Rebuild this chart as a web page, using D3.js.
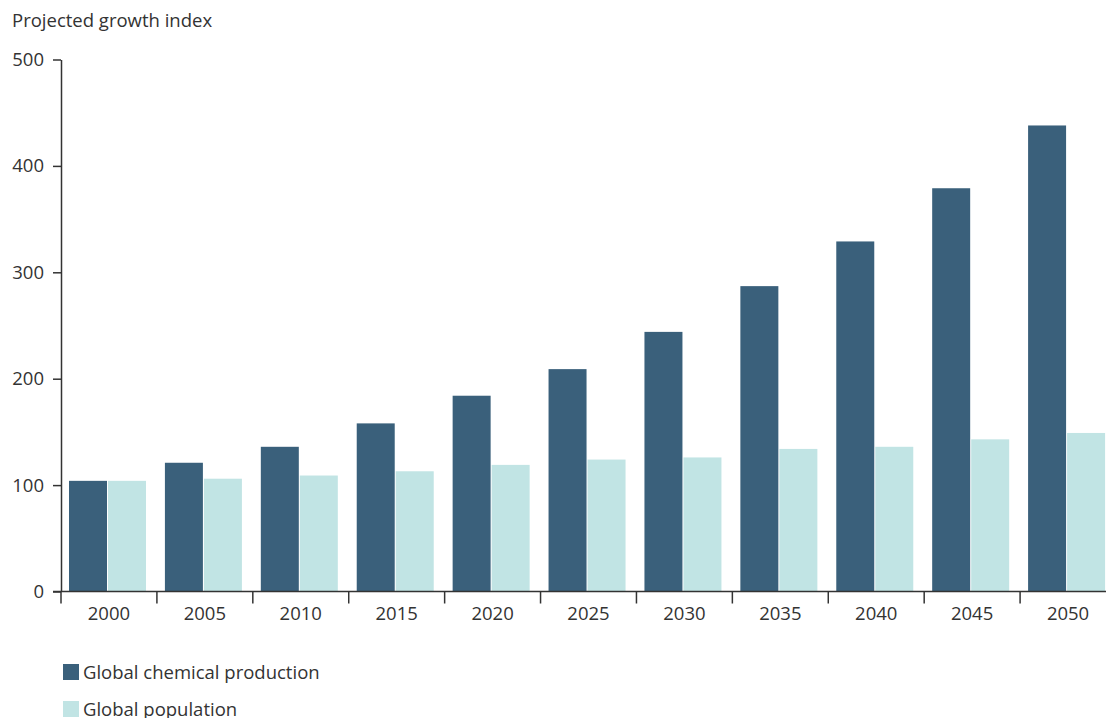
<!DOCTYPE html>
<html><head><meta charset="utf-8">
<script src="https://cdn.jsdelivr.net/npm/d3@7"></script>
<style>body{margin:0;background:#fff}svg{display:block;font-family:"Open Sans",sans-serif}</style>
</head><body><svg id="c" width="1106" height="718"></svg>
<script>
const years = ["2000","2005","2010","2015","2020","2025","2030","2035","2040","2045","2050"];
const seriesNames = ["Global chemical production","Global population"];
const chemical = [104,121,136,158,184,209,244,287,329,379,438];
const population = [104,106,109,113,119,124,126,134,136,143,149];
const yTicks = [0,100,200,300,400,500];
const colors = ["#3a607b","#c1e4e4"];

const svg = d3.select("#c");
const y = d3.scaleLinear().domain([0,500]).range([591.5,59.5]);
const x0 = d3.scaleBand().domain(years).range([61,1116]).padding(0);
const x1 = d3.scaleBand().domain(seriesNames).range([8,85]).paddingInner(0.026);
const data = [chemical, population];

// bars
seriesNames.forEach((s,si)=>{
  svg.append("g").selectAll("rect").data(years).join("rect")
    .attr("x", (d)=>x0(d)+x1(s))
    .attr("width", x1.bandwidth())
    .attr("y", (d,i)=>y(data[si][i]))
    .attr("height", (d,i)=>y(0)-y(data[si][i]))
    .attr("fill", colors[si]);
});

// y axis
const ya = svg.append("g").attr("transform","translate(61,0)")
  .call(d3.axisLeft(y).tickValues(yTicks).tickSize(8).tickSizeOuter(0).tickPadding(9));
ya.select(".domain").attr("stroke","#333").attr("stroke-width",1.5);
ya.selectAll(".tick line").attr("stroke","#333").attr("stroke-width",1.5);
ya.selectAll(".tick text").attr("font-size",18.5).attr("fill","#333").attr("font-family","'Open Sans',sans-serif");

// x axis
const xa = svg.append("g").attr("transform",`translate(0,${y(0)})`);
xa.append("line").attr("x1",53).attr("x2",1106).attr("stroke","#333").attr("stroke-width",1.5);
xa.selectAll("line.tk").data(years).join("line").attr("class","tk")
  .attr("x1",d=>x0(d)).attr("x2",d=>x0(d)).attr("y1",0).attr("y2",12)
  .attr("stroke","#333").attr("stroke-width",1.5);
xa.selectAll("text").data(years).join("text")
  .attr("x",d=>x0(d)+x0.bandwidth()/2).attr("y",28.5)
  .attr("text-anchor","middle").attr("font-size",18.5).attr("fill","#333").text(d=>d);

// title
svg.append("text").attr("x",12).attr("y",27).attr("font-size",18.5).attr("fill","#333").text("Projected growth index");

// legend
const lg = svg.append("g").selectAll("g").data(seriesNames).join("g")
  .attr("transform",(d,i)=>`translate(63,${664+i*37})`);
lg.append("rect").attr("width",16).attr("height",16).attr("fill",(d,i)=>colors[i]);
lg.append("text").attr("x",20).attr("y",14.5).attr("font-size",18.5).attr("fill","#333").text(d=>d);
</script></body></html>
